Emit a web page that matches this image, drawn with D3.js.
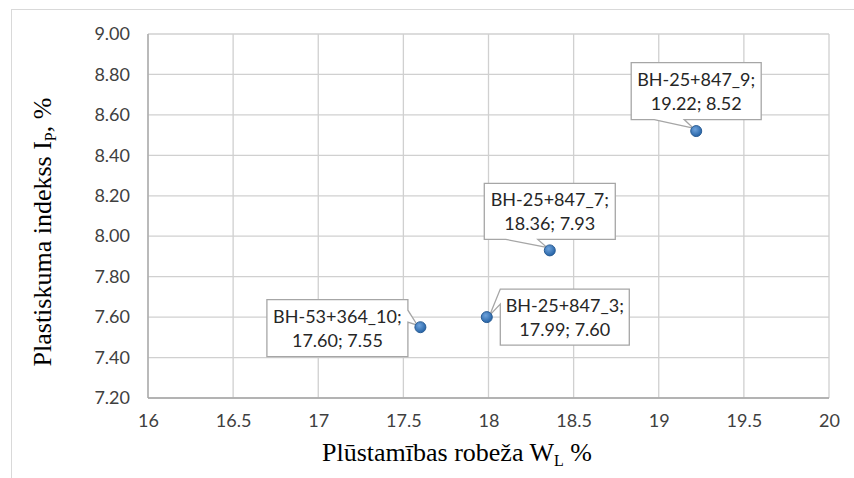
<!DOCTYPE html>
<html><head><meta charset="utf-8">
<script src="https://cdn.jsdelivr.net/npm/d3@7"></script>
<style>body{margin:0;background:#fff}svg{display:block}</style>
</head><body><svg id="c" width="854" height="478"></svg>
<script>
const names = ["BH-25+847_9", "BH-25+847_7", "BH-25+847_3", "BH-53+364_10"];
const xVals = [19.22, 18.36, 17.99, 17.60];
const yVals = [8.52, 7.93, 7.60, 7.55];
const xTicks = [16, 16.5, 17, 17.5, 18, 18.5, 19, 19.5, 20];
const yTicks = [7.2, 7.4, 7.6, 7.8, 8.0, 8.2, 8.4, 8.6, 8.8, 9.0];

// label layout: box centre offset from point, size, pointer side
const labelLayout = [
  {dx: 0, dy: -40, w: 130, h: 57, side: "bottom", b0: -42, b1: -12},
  {dx: 0, dy: -39, w: 131, h: 56, side: "bottom", b0: -44, b1: -12},
  {dx: 78, dy: 0, w: 129, h: 56, side: "left", b0: -28, b1: -13},
  {dx: -83, dy: 1, w: 141, h: 57, side: "right", b0: -17, b1: -5}
];

const svg = d3.select("#c");
const L = 148, R = 829, T = 34, B = 398;
const x = d3.scaleLinear().domain([16, 20]).range([L, R]);
const y = d3.scaleLinear().domain([7.2, 9.0]).range([B, T]);

svg.append("rect").attr("x", 11.5).attr("y", 9.5).attr("width", 900).attr("height", 500)
  .attr("fill", "none").attr("stroke", "#d9d9d9");

const grid = svg.append("g");
grid.selectAll("line.v").data(xTicks).enter().append("line")
  .attr("x1", d => x(d)).attr("x2", d => x(d)).attr("y1", T).attr("y2", B)
  .attr("stroke", "#d0d0d0").attr("stroke-width", 1.3);
grid.selectAll("line.h").data(yTicks).enter().append("line")
  .attr("y1", d => y(d)).attr("y2", d => y(d)).attr("x1", L).attr("x2", R)
  .attr("stroke", "#d0d0d0").attr("stroke-width", 1.3);
svg.append("line").attr("x1", L).attr("x2", L).attr("y1", T).attr("y2", B).attr("stroke", "#a6a6a6").attr("stroke-width", 1.3);
svg.append("line").attr("x1", L).attr("x2", R).attr("y1", B).attr("y2", B).attr("stroke", "#a6a6a6").attr("stroke-width", 1.3);

const FONT = "Lato, 'Open Sans', sans-serif";
const xAxis = d3.axisBottom(x).tickValues(xTicks).tickSize(0).tickPadding(16).tickFormat(d3.format("~g"));
const gx = svg.append("g").attr("transform", `translate(0,${B})`).call(xAxis);
gx.select(".domain").remove();
gx.selectAll("text").attr("font-family", FONT).attr("font-size", 18).attr("fill", "#404040");

const yAxis = d3.axisLeft(y).tickValues(yTicks).tickSize(0).tickPadding(18).tickFormat(d3.format(".2f"));
const gy = svg.append("g").attr("transform", `translate(${L},0)`).call(yAxis);
gy.select(".domain").remove();
gy.selectAll("text").attr("font-family", FONT).attr("font-size", 18).attr("fill", "#404040");

// axis titles
const xt = svg.append("text").attr("x", 457).attr("y", 461).attr("text-anchor", "middle")
  .attr("font-family", "'Liberation Serif', serif").attr("font-size", 26).attr("fill", "#000");
xt.append("tspan").text("Plūstamības robeža W");
xt.append("tspan").attr("font-size", 16).attr("dy", 5).text("L");
xt.append("tspan").attr("dy", -5).text(" %");

const yt = svg.append("text").attr("transform", "translate(51,232) rotate(-90)").attr("text-anchor", "middle")
  .attr("font-family", "'Liberation Serif', serif").attr("font-size", 26).attr("fill", "#000");
yt.append("tspan").text("Plastiskuma indekss I");
yt.append("tspan").attr("font-size", 16).attr("dy", 5).text("P");
yt.append("tspan").attr("dy", -5).text(", %");

// callouts
const data = names.map((n, i) => ({name: n, x: xVals[i], y: yVals[i], lay: labelLayout[i]}));
const cg = svg.append("g");
data.forEach(d => {
  const px = x(d.x), py = y(d.y), l = d.lay;
  const cx = px + l.dx, cy = py + l.dy;
  const x0 = cx - l.w / 2, x1 = cx + l.w / 2, y0 = cy - l.h / 2, y1 = cy + l.h / 2;
  let path;
  if (l.side === "bottom") {
    const tx = px - 3, ty = py - 3;
    path = `M${x0},${y0}H${x1}V${y1}H${px + l.b1}L${tx},${ty}L${px + l.b0},${y1}H${x0}Z`;
  } else if (l.side === "right") {
    const tx = px - 3, ty = py - 2;
    path = `M${x0},${y0}H${x1}V${py + l.b0}L${tx},${ty}L${x1},${py + l.b1}V${y1}H${x0}Z`;
  } else {
    const tx = px + 3, ty = py - 2;
    path = `M${x0},${y0}H${x1}V${y1}H${x0}V${py + l.b1}L${tx},${ty}L${x0},${py + l.b0}Z`;
  }
  cg.append("path").attr("d", path).attr("fill", "#fff").attr("stroke", "#a6a6a6").attr("stroke-width", 1.3);
  const t = cg.append("text").attr("text-anchor", "middle")
    .attr("font-family", FONT).attr("font-size", 18).attr("fill", "#262626");
  t.append("tspan").attr("x", cx).attr("y", cy - 5).text(d.name + ";");
  t.append("tspan").attr("x", cx).attr("y", cy + 19).text(d3.format(".2f")(d.x) + "; " + d3.format(".2f")(d.y));
});

// markers
const defs = svg.append("defs");
const grad = defs.append("radialGradient").attr("id", "mg").attr("cx", "40%").attr("cy", "35%").attr("r", "65%");
grad.append("stop").attr("offset", "0%").attr("stop-color", "#6fa3dc");
grad.append("stop").attr("offset", "100%").attr("stop-color", "#2563a6");
svg.append("g").selectAll("circle").data(data).enter().append("circle")
  .attr("cx", d => x(d.x)).attr("cy", d => y(d.y)).attr("r", 5.5)
  .attr("fill", "url(#mg)").attr("stroke", "#2a5d95").attr("stroke-width", 1);
</script></body></html>
